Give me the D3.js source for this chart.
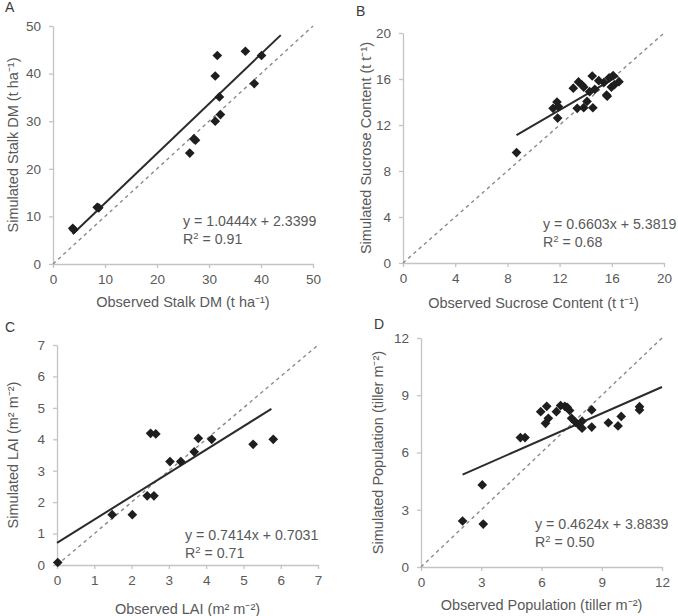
<!DOCTYPE html>
<html><head><meta charset="utf-8">
<script src="https://cdn.jsdelivr.net/npm/d3@7"></script>
<style>
body{margin:0;background:#fff;}
svg{display:block;font-family:"Liberation Sans",Arial,sans-serif;}
</style></head>
<body><svg id="c" width="678" height="616"></svg>
<script>
// ---- data ----
const stalkObs = [3.8, 4.0, 8.5, 8.8, 26.3, 27.4, 27.1, 31.2, 31.6, 31.2, 32.0, 32.2, 37.0, 38.7, 40.1];
const stalkSim = [7.5, 7.2, 11.9, 11.8, 23.3, 26.0, 26.3, 39.5, 43.8, 30.0, 35.1, 31.4, 44.7, 37.9, 43.8];
const sucroseObs = [8.7, 11.5, 11.8, 11.9, 11.85, 13.05, 13.45, 13.7, 13.85, 13.35, 13.85, 14.1, 14.55, 14.5, 14.7, 14.3, 15.0, 15.4, 15.6, 15.65, 15.97, 16.1, 16.55, 16.2, 15.8];
const sucroseSim = [9.6, 13.45, 14.0, 13.6, 12.6, 15.2, 15.75, 15.5, 15.3, 13.45, 13.5, 14.05, 13.5, 16.26, 15.1, 14.9, 15.85, 15.7, 14.6, 14.5, 15.3, 16.3, 15.77, 15.5, 16.1];
const laiObs = [0.02, 1.48, 2.02, 2.42, 2.6, 2.51, 2.65, 3.03, 3.32, 3.68, 3.79, 4.15, 5.26, 5.8];
const laiSim = [0.08, 1.6, 1.6, 2.2, 2.2, 4.19, 4.17, 3.29, 3.29, 3.6, 4.03, 4.0, 3.84, 4.0];
const popObs = [2.07, 3.05, 3.1, 4.95, 5.18, 5.96, 6.26, 6.34, 6.2, 6.74, 6.95, 7.16, 7.28, 7.4, 7.5, 7.7, 7.85, 8.02, 8.02, 8.5, 8.5, 9.33, 9.81, 9.97, 10.88, 10.88];
const popSim = [2.41, 4.3, 2.25, 6.78, 6.78, 8.14, 8.42, 7.79, 7.53, 8.14, 8.46, 8.42, 8.37, 8.2, 7.79, 7.58, 7.46, 7.27, 7.64, 8.23, 7.33, 7.56, 7.39, 7.89, 8.4, 8.23];
const slopes = [1.0444, 0.6603, 0.7414, 0.4624];
const intercepts = [2.3399, 5.3819, 0.7031, 3.8839];
const r2Labels = ["0.91", "0.68", "0.71", "0.50"];
const fitRanges = [[3.8, 43.8], [8.7, 16.5], [0, 5.75], [2.07, 12]];
const ticksA = [0, 10, 20, 30, 40, 50];
const ticksB = [0, 4, 8, 12, 16, 20];
const ticksC = [0, 1, 2, 3, 4, 5, 6, 7];
const ticksD = [0, 3, 6, 9, 12];
const panelLetters = ["A", "B", "C", "D"];
const xTitles = ["Observed Stalk DM (t ha\u207B\u00B9)", "Observed Sucrose Content (t t\u207B\u00B9)", "Observed LAI (m\u00B2 m\u207B\u00B2)", "Observed Population (tiller m\u207B\u00B2)"];
const yTitles = ["Simulated Stalk DM (t ha\u207B\u00B9)", "Simulated Sucrose Content (t t\u207B\u00B9)", "Simulated LAI (m\u00B2 m\u207B\u00B2)", "Simulated Population (tiller m\u207B\u00B2)"];

// ---- layout ----
const panels = [
  {obs: stalkObs, sim: stalkSim, ticks: ticksA, L: 53, R: 313, T: 26, B: 264, letter: [5, 12], eq: [183, 226], xt: 307, yt: 13},
  {obs: sucroseObs, sim: sucroseSim, ticks: ticksB, L: 403, R: 664, T: 33, B: 263, letter: [356, 16], eq: [543, 229], xt: 308, yt: 366},
  {obs: laiObs, sim: laiSim, ticks: ticksC, L: 57, R: 318, T: 345, B: 565, letter: [5, 332], eq: [185, 540], xt: 614, yt: 13},
  {obs: popObs, sim: popSim, ticks: ticksD, L: 421, R: 662, T: 338, B: 567, letter: [374, 329], eq: [535, 529], xt: 610, yt: 378}
];

const svg = d3.select("#c");
const axisCol = "#c4c4c4", txtCol = "#595959";

panels.forEach((p, i) => {
  const max = p.ticks[p.ticks.length - 1];
  const x = d3.scaleLinear().domain([0, max]).range([p.L, p.R]);
  const y = d3.scaleLinear().domain([0, max]).range([p.B, p.T]);
  const g = svg.append("g");

  const xa = g.append("g").attr("transform", `translate(0,${p.B})`)
    .call(d3.axisBottom(x).tickValues(p.ticks).tickSize(4).tickSizeOuter(0).tickPadding(6).tickFormat(d3.format("d")));
  const ya = g.append("g").attr("transform", `translate(${p.L},0)`)
    .call(d3.axisLeft(y).tickValues(p.ticks).tickSize(4).tickSizeOuter(0).tickPadding(8).tickFormat(d3.format("d")));
  [xa, ya].forEach(a => {
    a.select(".domain").attr("stroke", axisCol).attr("stroke-width", 1.3);
    a.selectAll(".tick line").attr("stroke", axisCol).attr("stroke-width", 1.3);
    a.selectAll(".tick text").attr("fill", txtCol).attr("font-size", 13.5).attr("font-family", "Liberation Sans, Arial, sans-serif");
  });

  // 1:1 line
  g.append("line").attr("x1", x(0)).attr("y1", y(0)).attr("x2", x(max)).attr("y2", y(max))
    .attr("stroke", "#8a8a8a").attr("stroke-width", 1.4).attr("stroke-dasharray", "3.5,3.5");

  // fit line
  const [f0, f1] = fitRanges[i];
  g.append("line").attr("x1", x(f0)).attr("y1", y(slopes[i] * f0 + intercepts[i]))
    .attr("x2", x(f1)).attr("y2", y(slopes[i] * f1 + intercepts[i]))
    .attr("stroke", "#2b2b2b").attr("stroke-width", 2);

  // points
  const sym = d3.symbol().type(d3.symbolDiamond2).size(60);
  g.selectAll("path.pt").data(p.obs.map((o, k) => [o, p.sim[k]])).join("path")
    .attr("class", "pt").attr("d", sym)
    .attr("transform", d => `translate(${x(d[0])},${y(d[1])})`)
    .attr("fill", "#1e1e1e");

  // equation
  const eq = g.append("text").attr("x", p.eq[0]).attr("y", p.eq[1]).attr("fill", txtCol).attr("font-size", 14.2);
  eq.text(`y = ${slopes[i].toFixed(4)}x + ${intercepts[i].toFixed(4)}`);
  const r = g.append("text").attr("x", p.eq[0]).attr("y", p.eq[1] + 18).attr("fill", txtCol).attr("font-size", 14.2);
  r.append("tspan").text("R");
  r.append("tspan").attr("dy", -5).attr("font-size", 9.5).text("2");
  r.append("tspan").attr("dy", 5).text(` = ${r2Labels[i]}`);

  // titles
  g.append("text").attr("x", (p.L + p.R) / 2).attr("y", p.xt).attr("text-anchor", "middle")
    .attr("fill", txtCol).attr("font-size", 14.5).text(xTitles[i]);
  g.append("text").attr("transform", `translate(${p.yt},${(p.T + p.B) / 2}) rotate(-90)`)
    .attr("text-anchor", "middle").attr("dy", "0.35em")
    .attr("fill", txtCol).attr("font-size", 14.5).text(yTitles[i]);

  g.append("text").attr("x", p.letter[0]).attr("y", p.letter[1]).attr("fill", "#3a3a3a").attr("font-size", 14)
    .text(panelLetters[i]);
});
</script></body></html>
